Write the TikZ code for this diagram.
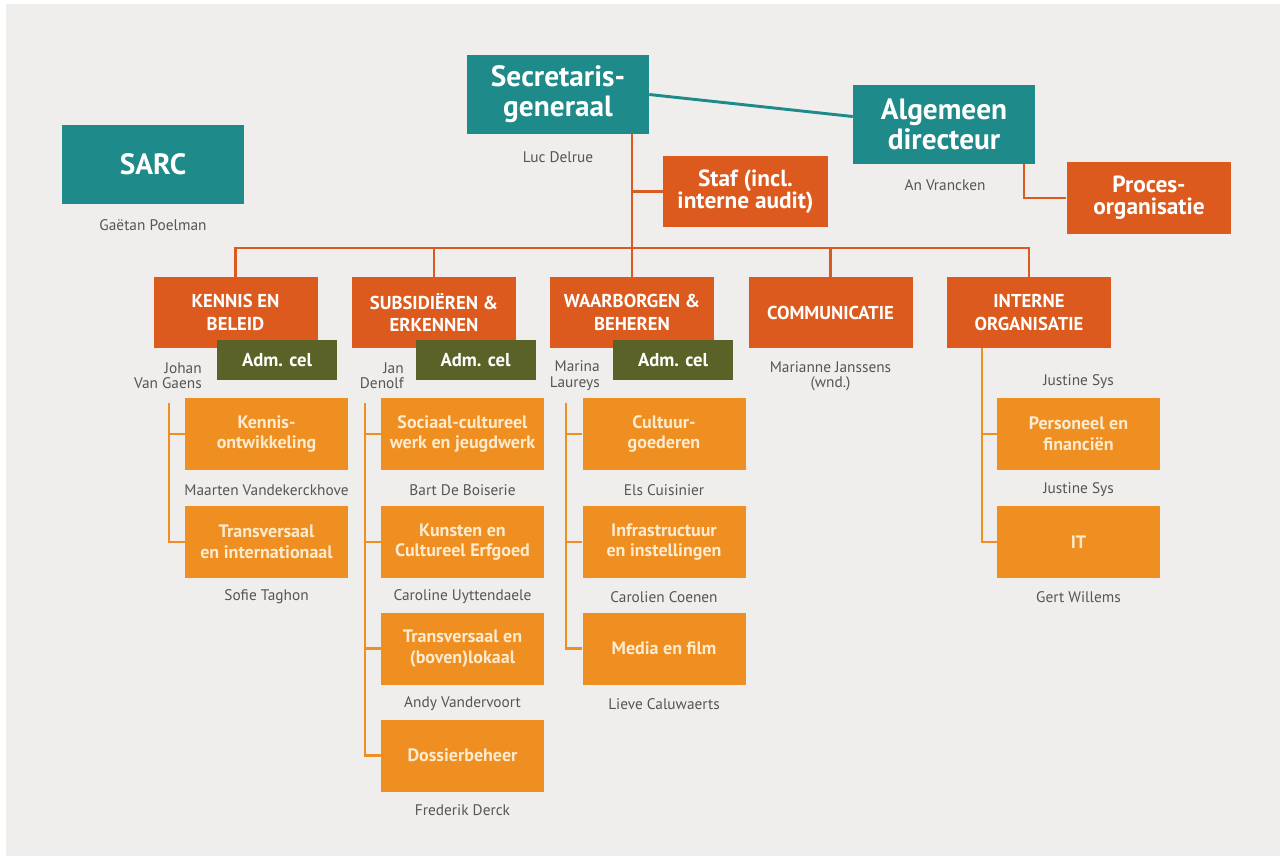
\documentclass[tikz,border=0pt]{standalone}
\usepackage{fontspec}
\setmainfont{PT Sans}
\definecolor{vlteal}{HTML}{1E8A89}
\definecolor{vlrood}{HTML}{DC5A1D}
\definecolor{vloranje}{HTML}{EF8F22}
\definecolor{vlolijf}{HTML}{5A6227}
\definecolor{vlgrijs}{HTML}{EFEEEC}
\definecolor{vlnaam}{HTML}{555555}
\definecolor{vlcreme}{HTML}{FDEBCF}
\tikzset{
  top/.style={fill=vlteal,text=white,minimum width=136.5pt,minimum height=59.25pt,inner sep=0pt,align=center,font=\fontsize{22}{22.5}\selectfont\bfseries},
  staf/.style={fill=vlrood,text=white,minimum width=123.5pt,minimum height=53.5pt,inner sep=0pt,align=center,font=\fontsize{17.5}{16.5}\selectfont\bfseries},
  dept/.style={fill=vlrood,text=white,minimum width=123pt,minimum height=53.25pt,inner sep=0pt,align=center,font=\fontsize{14}{17}\selectfont\bfseries},
  adm/.style={fill=vlolijf,text=white,minimum width=90pt,minimum height=30pt,inner sep=0pt,font=\fontsize{14}{16}\selectfont\bfseries},
  sub/.style={fill=vloranje,text=vlcreme,minimum width=122.25pt,minimum height=54pt,inner sep=0pt,align=center,font=\fontsize{13.5}{15.5}\selectfont\bfseries},
  naam/.style={text=vlnaam,inner sep=0pt,align=center,font=\fontsize{11.5}{11.5}\selectfont},
  lijn/.style={draw=vlrood,line width=2pt},
  sublijn/.style={draw=vloranje,line width=2pt},
  tealijn/.style={draw=vlteal,line width=2.2pt}
}
\begin{document}
\begin{tikzpicture}[x=0.75pt,y=-0.75pt]
  \useasboundingbox (0,0) rectangle (1280,856);
  \fill[white] (0,0) rectangle (1280,856);
  \fill[vlgrijs] (6,4) rectangle (1280,856);

  % top level
  \node[top] (sarc) at (153,164.5) {SARC};
  \node[top] (sg) at (558,94.5) {Secretaris-\\generaal};
  \node[top] (ad) at (944,124.5) {Algemeen\\directeur};
  \node[staf] (staf) at (745.5,191.5) {Staf (incl.\\interne audit)};
  \node[staf] (proces) at (1149,198) {Proces-\\organisatie};
  \node[naam] (n-sarc) at (153,225) {Gaëtan Poelman};
  \node[naam] (n-sg) at (558,157) {Luc Delrue};
  \node[naam] (n-ad) at (945,185) {An Vrancken};

  % afdelingen
  \node[dept] (kb) at (235.5,312.5) {KENNIS EN\\BELEID};
  \node[dept] (se) at (434,312.5) {SUBSIDIËREN \&\\ERKENNEN};
  \node[dept] (wb) at (632,312.5) {WAARBORGEN \&\\BEHEREN};
  \node[dept] (com) at (830.5,312.5) {COMMUNICATIE};
  \node[dept] (io) at (1029,312.5) {INTERNE\\ORGANISATIE};
  \node[adm] (kb-adm) at (277,360) {Adm. cel};
  \node[adm] (se-adm) at (475.5,360) {Adm. cel};
  \node[adm] (wb-adm) at (673,360) {Adm. cel};
  \node[naam,anchor=east,align=right] (n-kb) at (202,375.5) {Johan\\Van Gaens};
  \node[naam,anchor=east,align=right] (n-se) at (404,375.5) {Jan\\Denolf};
  \node[naam,anchor=east,align=right] (n-wb) at (600,375.5) {Marina\\Laureys};
  \node[naam] (n-com) at (830.5,376) {Marianne Janssens\\(wnd.)};

  % teams
  \node[sub] (ko) at (266.5,434) {Kennis-\\ontwikkeling};
  \node[sub] (ti) at (266.5,542) {Transversaal\\en internationaal};
  \node[sub] (sc) at (462.5,434) {Sociaal-cultureel\\werk en jeugdwerk};
  \node[sub] (kce) at (462.5,542) {Kunsten en\\Cultureel Erfgoed};
  \node[sub] (tbl) at (462.5,648.5) {Transversaal en\\(boven)lokaal};
  \node[sub] (db) at (462.5,755.5) {Dossierbeheer};
  \node[sub] (cg) at (664,434) {Cultuur-\\goederen};
  \node[sub] (ii) at (664,542) {Infrastructuur\\en instellingen};
  \node[sub] (mf) at (664,648.5) {Media en film};
  \node[sub] (pf) at (1078.5,434) {Personeel en\\financiën};
  \node[sub] (it) at (1078.5,542) {IT};
  \node[naam] (n-ko) at (266.5,490) {Maarten Vandekerckhove};
  \node[naam] (n-ti) at (266.5,597) {Sofie Taghon};
  \node[naam] (n-sc) at (462.5,490) {Bart De Boiserie};
  \node[naam] (n-kce) at (462.5,597) {Caroline Uyttendaele};
  \node[naam] (n-tbl) at (462.5,704) {Andy Vandervoort};
  \node[naam] (n-db) at (462.5,810) {Frederik Derck};
  \node[naam] (n-cg) at (664,490) {Els Cuisinier};
  \node[naam] (n-ii) at (664,597) {Carolien Coenen};
  \node[naam] (n-mf) at (664,704) {Lieve Caluwaerts};
  \node[naam] (n-io) at (1078.5,382) {Justine Sys};
  \node[naam] (n-pf) at (1078.5,490) {Justine Sys};
  \node[naam] (n-it) at (1078.5,597) {Gert Willems};

  % verbindingen
  \coordinate (bar) at (632,248);
  \coordinate (ad-p) at (1024,164);
  \draw[tealijn] (sg.east) -- (ad.175);
  \draw[lijn] (sg.south -| wb.north) -- (wb.north);
  \draw[lijn] (staf.west) -- (staf.west -| wb.north);
  \draw[lijn] (ad-p) |- (proces.west);
  \draw[lijn] (kb.north) |- (bar) -| (io.north);
  \draw[lijn] (se.north) -- (se.north |- bar) (com.north) -- (com.north |- bar);

  \coordinate (kb-l) at (169,403);
  \coordinate (se-l) at (365,403);
  \coordinate (wb-l) at (566,403);
  \coordinate (io-l) at (982,0);
  \draw[sublijn] (kb-l) |- (ti.west) (ko.west) -- (ko.west -| kb-l);
  \draw[sublijn] (se-l) |- (db.west) (sc.west) -- (sc.west -| se-l) (kce.west) -- (kce.west -| se-l) (tbl.west) -- (tbl.west -| se-l);
  \draw[sublijn] (wb-l) |- (mf.west) (cg.west) -- (cg.west -| wb-l) (ii.west) -- (ii.west -| wb-l);
  \draw[sublijn] (io.south -| io-l) |- (it.west) (pf.west) -- (pf.west -| io-l);
\end{tikzpicture}
\end{document}
